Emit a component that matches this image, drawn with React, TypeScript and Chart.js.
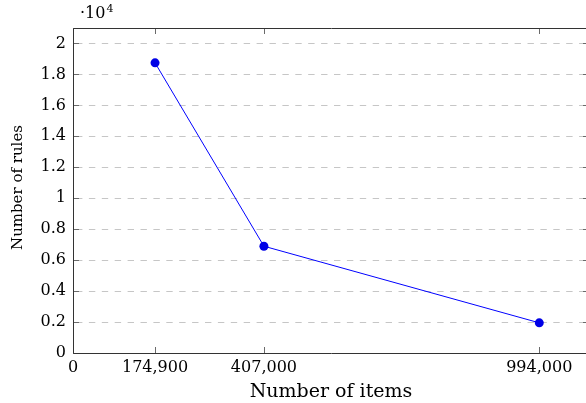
import React, { useEffect, useRef } from "react";
import { Chart, registerables } from "chart.js";

Chart.register(...registerables);

const itemCounts = [174900, 407000, 994000];
const ruleCounts = [18750, 6900, 1950];
const xTickValues = [0, 174900, 407000, 994000];
const yTickValues = [0, 2000, 4000, 6000, 8000, 10000, 12000, 14000, 16000, 18000, 20000];
const xMin = 0;
const xMax = 1100000;
const yMin = 0;
const yMax = 21000;
const xTitle = "Number of items";
const yTitle = "Number of rules";
const scaleBase = "·10";
const scaleExp = "4";

const SERIF = "'DejaVu Serif', serif";

const framePlugin = {
  id: "pgfFrame",
  beforeDatasetsDraw(chart: any) {
    const { ctx, chartArea, scales } = chart;
    const { left, right, top, bottom } = chartArea;
    const x = scales.x;
    const y = scales.y;
    ctx.save();
    ctx.strokeStyle = "#c6c6c6";
    ctx.lineWidth = 1;
    ctx.setLineDash([6.4, 6.5]);
    ctx.lineDashOffset = -3;
    yTickValues.forEach((v) => {
      if (v === yMin) return;
      const py = Math.round(y.getPixelForValue(v)) + 0.5;
      ctx.beginPath();
      ctx.moveTo(left, py);
      ctx.lineTo(right, py);
      ctx.stroke();
    });
    ctx.setLineDash([]);
    ctx.strokeStyle = "#6a6a6a";
    ctx.lineWidth = 1;
    const tl = 6;
    yTickValues.forEach((v) => {
      const py = Math.round(y.getPixelForValue(v)) + 0.5;
      ctx.beginPath();
      ctx.moveTo(left, py);
      ctx.lineTo(left + tl, py);
      ctx.moveTo(right - tl, py);
      ctx.lineTo(right, py);
      ctx.stroke();
    });
    xTickValues.forEach((v) => {
      const px = Math.round(x.getPixelForValue(v)) + 0.5;
      ctx.beginPath();
      ctx.moveTo(px, bottom);
      ctx.lineTo(px, bottom - tl);
      ctx.moveTo(px, top);
      ctx.lineTo(px, top + tl);
      ctx.stroke();
    });
    ctx.strokeStyle = "#333333";
    ctx.lineWidth = 1;
    const l = Math.round(left) + 0.5;
    const r = Math.round(right) + 0.5;
    const t = Math.round(top) + 0.5;
    const b = Math.round(bottom) + 0.5;
    ctx.beginPath();
    ctx.moveTo(l, t);
    ctx.lineTo(r, t);
    ctx.lineTo(r, b);
    ctx.lineTo(l, b);
    ctx.closePath();
    ctx.stroke();
    ctx.restore();
  },
  afterDraw(chart: any) {
    const { ctx, chartArea } = chart;
    const { left, right, top, bottom } = chartArea;
    ctx.save();
    ctx.fillStyle = "#000";
    ctx.font = `19px ${SERIF}`;
    ctx.textAlign = "center";
    ctx.textBaseline = "alphabetic";
    ctx.fillText(xTitle, (left + right) / 2, 397);
    ctx.save();
    ctx.translate(22, (top + bottom) / 2 - 3);
    ctx.rotate(-Math.PI / 2);
    ctx.font = `15px ${SERIF}`;
    ctx.textAlign = "center";
    ctx.fillText(yTitle, 0, 0);
    ctx.restore();
    ctx.textAlign = "left";
    ctx.font = `16px ${SERIF}`;
    ctx.fillText(scaleBase, left + 7, 18);
    const w = ctx.measureText(scaleBase).width;
    ctx.font = `11px ${SERIF}`;
    ctx.fillText(scaleExp, left + 7 + w + 1, 12);
    ctx.restore();
  },
};

export default function App() {
  const canvasRef = useRef<HTMLCanvasElement | null>(null);

  useEffect(() => {
    document.documentElement.style.overflow = "hidden";
    const canvas = canvasRef.current;
    if (!canvas) return;
    const chart = new Chart(canvas, {
      type: "line",
      data: {
        datasets: [
          {
            data: itemCounts.map((v, i) => ({ x: v, y: ruleCounts[i] })),
            borderColor: "#0000ff",
            backgroundColor: "#0000e6",
            borderWidth: 1,
            pointRadius: 4.5,
            pointBorderWidth: 0,
            pointBackgroundColor: "#0000e6",
            pointBorderColor: "#0000e6",
            tension: 0,
            fill: false,
          },
        ],
      },
      options: {
        animation: false,
        responsive: false,
        maintainAspectRatio: false,
        layout: { padding: { left: 0, right: 11, top: 28, bottom: 0 } },
        plugins: {
          legend: { display: false },
          tooltip: { enabled: false },
          title: { display: false },
        },
        scales: {
          x: {
            type: "linear",
            min: xMin,
            max: xMax,
            grid: { display: false, drawTicks: false },
            border: { display: false },
            afterBuildTicks: (scale: any) => {
              scale.ticks = xTickValues.map((v) => ({ value: v }));
            },
            afterFit: (scale: any) => {
              scale.height = 50;
            },
            ticks: {
              autoSkip: false,
              maxRotation: 0,
              minRotation: 0,
              padding: 5,
              color: "#000",
              font: { family: SERIF, size: 16 },
              callback: (v: any) => Number(v).toLocaleString("en-US"),
            },
          },
          y: {
            type: "linear",
            min: yMin,
            max: yMax,
            grid: { display: false, drawTicks: false },
            border: { display: false },
            afterBuildTicks: (scale: any) => {
              scale.ticks = yTickValues.map((v) => ({ value: v }));
            },
            afterFit: (scale: any) => {
              scale.width = 73;
            },
            ticks: {
              autoSkip: false,
              padding: 7,
              color: "#000",
              font: { family: SERIF, size: 16 },
              callback: (v: any) => String(Number(v) / 10000),
            },
          },
        },
      },
      plugins: [framePlugin],
    } as any);
    return () => chart.destroy();
  }, []);

  return (
    <div style={{ position: "fixed", left: 0, top: 0, width: 600, height: 403 }}>
      <canvas ref={canvasRef} width={600} height={403} />
    </div>
  );
}
